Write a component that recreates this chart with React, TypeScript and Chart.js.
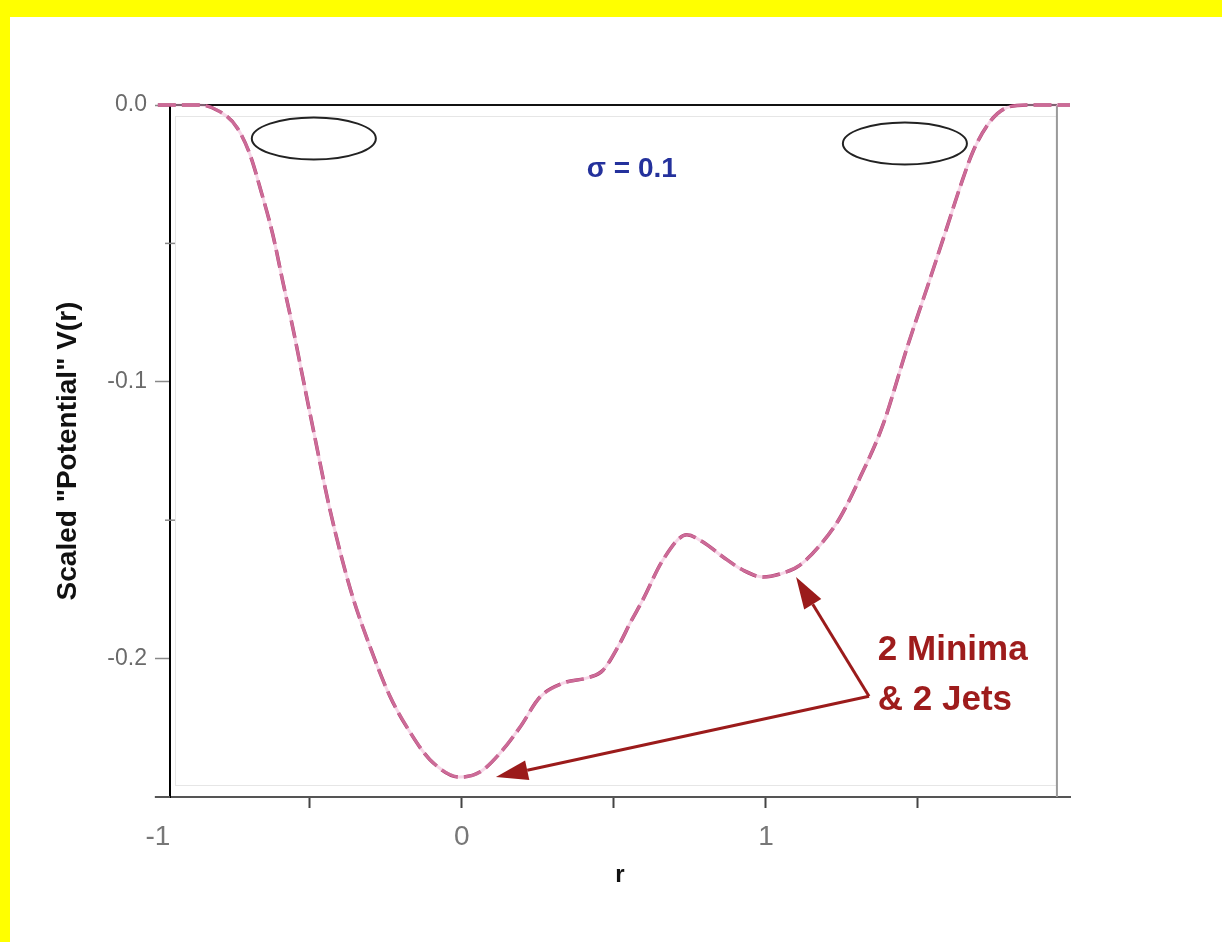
import React, { useEffect, useRef } from 'react';
import { Chart, registerables } from 'chart.js';

Chart.register(...registerables);

// ---- data ----
const rValues = [
  -1.0, -0.928, -0.862, -0.796, -0.74, -0.697, -0.664, -0.622, -0.589, -0.556,
  -0.523, -0.49, -0.434, -0.368, -0.303, -0.237, -0.171, -0.105, -0.007, 0.059,
  0.125, 0.191, 0.257, 0.332, 0.421, 0.464, 0.52, 0.553, 0.595, 0.661,
  0.74, 0.793, 0.859, 0.924, 0.99, 1.056, 1.112, 1.178, 1.243, 1.309,
  1.385, 1.464, 1.53, 1.595, 1.638, 1.681, 1.737, 1.793, 1.859, 2.0,
];
const vValues = [
  0, 0, 0, -0.0024, -0.0081, -0.0179, -0.0298, -0.0468, -0.0638, -0.0805,
  -0.0986, -0.1166, -0.1462, -0.1745, -0.1955, -0.2135, -0.2265, -0.2365, -0.2428, -0.241,
  -0.2342, -0.2248, -0.2139, -0.2089, -0.2067, -0.2042, -0.1944, -0.1872, -0.1788, -0.1644,
  -0.1553, -0.1579, -0.1633, -0.168, -0.1705, -0.1691, -0.1662, -0.159, -0.1492, -0.1347,
  -0.1155, -0.0877, -0.066, -0.0443, -0.0298, -0.0168, -0.006, -0.0009, 0, 0,
];

const xTickValues = [-1, -0.5, 0, 0.5, 1, 1.5];
const xTickLabels = ['-1', '', '0', '', '1', ''];
const yTickValues = [0, -0.1, -0.2];
const yTickLabels = ['0.0', '-0.1', '-0.2'];
const yMinorTicks = [-0.05, -0.15];

const xMin = -0.96;
const xMax = 2;
const yMin = -0.25;
const yMax = 0;
const frameRight = 1.957;

const sigmaText = 'σ = 0.1';
const sigmaPos = { x: 0.559, y: -0.0233 };
const noteLines = ['2 Minima', '& 2 Jets'];
const notePos = [
  { x: 1.368, y: -0.197 },
  { x: 1.368, y: -0.215 },
];
const arrowApex = { x: 1.339, y: -0.2136 };
const arrowTips = [
  { x: 1.099, y: -0.1705 },
  { x: 0.112, y: -0.2428 },
];
const ellipses = [
  { x: -0.487, y: -0.0121, rx: 0.204, ry: 0.0076 },
  { x: 1.457, y: -0.0139, rx: 0.204, ry: 0.0076 },
];

const FONT = "'Liberation Sans', Arial, Helvetica, sans-serif";

export default function App() {
  const ref = useRef<HTMLCanvasElement>(null);

  useEffect(() => {
    const canvas = ref.current;
    if (!canvas) return;

    const decor = {
      id: 'decor',
      beforeDraw(chart: any) {
        const { ctx, width, height } = chart;
        ctx.save();
        ctx.fillStyle = '#ffffff';
        ctx.fillRect(0, 0, width, height);
        ctx.fillStyle = '#ffff00';
        ctx.fillRect(0, 0, width, 17);
        ctx.fillRect(0, 0, 10, height);
        ctx.restore();
      },
      beforeDatasetsDraw(chart: any) {
        const { ctx, chartArea: a, scales } = chart;
        const x = scales.x;
        const y = scales.y;
        const xr = x.getPixelForValue(frameRight);
        ctx.save();
        ctx.strokeStyle = '#e6e6e6';
        ctx.lineWidth = 1;
        ctx.strokeRect(a.left + 5.5, a.top + 11.5, xr - a.left - 6, a.bottom - a.top - 23);
        ctx.strokeStyle = '#111111';
        ctx.lineWidth = 2;
        ctx.beginPath();
        ctx.moveTo(a.left, a.top);
        ctx.lineTo(xr, a.top);
        ctx.stroke();
        ctx.strokeStyle = '#9a9a9a';
        ctx.beginPath();
        ctx.moveTo(xr, a.top);
        ctx.lineTo(xr, a.bottom);
        ctx.stroke();
        ctx.strokeStyle = '#555555';
        ctx.beginPath();
        ctx.moveTo(x.getPixelForValue(-1) - 3, a.bottom);
        ctx.lineTo(a.left, a.bottom);
        ctx.stroke();
        ctx.strokeStyle = '#888888';
        ctx.lineWidth = 1.5;
        yMinorTicks.forEach((v) => {
          const py = y.getPixelForValue(v);
          ctx.beginPath();
          ctx.moveTo(a.left - 5, py);
          ctx.lineTo(a.left + 5, py);
          ctx.stroke();
        });
        ctx.restore();
      },
      afterDatasetsDraw(chart: any) {
        const { ctx, scales } = chart;
        const x = scales.x;
        const y = scales.y;
        const px = (v: number) => x.getPixelForValue(v);
        const py = (v: number) => y.getPixelForValue(v);
        ctx.save();
        ctx.strokeStyle = '#222222';
        ctx.lineWidth = 2;
        ellipses.forEach((e) => {
          const cx = px(e.x);
          const cy = py(e.y);
          const rx = Math.abs(px(e.x + e.rx) - cx);
          const ry = Math.abs(py(e.y + e.ry) - cy);
          ctx.beginPath();
          ctx.ellipse(cx, cy, rx, ry, 0, 0, Math.PI * 2);
          ctx.stroke();
        });
        ctx.fillStyle = '#24319c';
        ctx.font = `bold 28px ${FONT}`;
        ctx.textAlign = 'center';
        ctx.textBaseline = 'middle';
        ctx.fillText(sigmaText, px(sigmaPos.x), py(sigmaPos.y));
        ctx.fillStyle = '#9e1c1c';
        ctx.font = `bold 35px ${FONT}`;
        ctx.textAlign = 'left';
        noteLines.forEach((t, i) => {
          ctx.fillText(t, px(notePos[i].x), py(notePos[i].y));
        });
        const ax = px(arrowApex.x);
        const ay = py(arrowApex.y);
        ctx.strokeStyle = '#9b1b1b';
        ctx.fillStyle = '#9b1b1b';
        ctx.lineWidth = 3;
        arrowTips.forEach((tp) => {
          const tx = px(tp.x);
          const ty = py(tp.y);
          const ang = Math.atan2(ty - ay, tx - ax);
          const headLen = 32;
          const headW = 10;
          const bx = tx - headLen * Math.cos(ang);
          const by = ty - headLen * Math.sin(ang);
          ctx.beginPath();
          ctx.moveTo(ax, ay);
          ctx.lineTo(bx, by);
          ctx.stroke();
          ctx.beginPath();
          ctx.moveTo(tx, ty);
          ctx.lineTo(bx + headW * Math.sin(ang), by - headW * Math.cos(ang));
          ctx.lineTo(bx - headW * Math.sin(ang), by + headW * Math.cos(ang));
          ctx.closePath();
          ctx.fill();
        });
        ctx.restore();
      },
    };

    const points = rValues.map((r, i) => ({ x: r, y: vValues[i] }));

    const chart = new Chart(canvas, {
      type: 'line',
      data: {
        datasets: [
          {
            data: points,
            borderColor: 'rgba(240,175,210,0.5)',
            borderWidth: 3,
            pointRadius: 0,
            cubicInterpolationMode: 'monotone',
            clip: false,
          } as any,
          {
            data: points,
            borderColor: '#a8275e',
            borderWidth: 3.5,
            borderDash: [18, 6],
            pointRadius: 0,
            cubicInterpolationMode: 'monotone',
            clip: false,
          } as any,
        ],
      },
      options: {
        responsive: false,
        animation: false,
        events: [],
        layout: { padding: { top: 105, right: 152, left: 0, bottom: 0 } },
        plugins: {
          legend: { display: false },
          tooltip: { enabled: false },
        },
        scales: {
          x: {
            type: 'linear',
            min: xMin,
            max: xMax,
            afterBuildTicks: (s: any) => {
              s.ticks = xTickValues.map((v) => ({ value: v }));
            },
            afterFit: (s: any) => {
              s.height = 145;
            },
            grid: {
              drawOnChartArea: false,
              drawTicks: true,
              tickLength: 11,
              tickWidth: 2,
              tickColor: (c: any) => (c.tick && c.tick.value === -1 ? 'rgba(0,0,0,0)' : '#444444'),
            },
            border: { display: true, color: '#555555', width: 2 },
            ticks: {
              autoSkip: false,
              maxRotation: 0,
              padding: 12,
              color: '#777777',
              font: { family: FONT, size: 28 },
              callback: (_v: any, i: number) => xTickLabels[i],
            },
            title: {
              display: true,
              text: 'r',
              color: '#111111',
              font: { family: FONT, size: 24, weight: 'bold' },
              padding: { top: 0, bottom: 52 },
            },
          },
          y: {
            type: 'linear',
            min: yMin,
            max: yMax,
            afterBuildTicks: (s: any) => {
              s.ticks = yTickValues.map((v) => ({ value: v }));
            },
            afterFit: (s: any) => {
              s.width = 170;
            },
            grid: {
              drawOnChartArea: false,
              drawTicks: true,
              tickLength: 15,
              tickWidth: 1.5,
              tickColor: '#888888',
            },
            border: { display: true, color: '#000000', width: 2 },
            ticks: {
              autoSkip: false,
              padding: 8,
              color: '#6a6a6a',
              font: { family: FONT, size: 23 },
              callback: (_v: any, i: number) => yTickLabels[i],
            },
            title: {
              display: true,
              text: 'Scaled "Potential" V(r)',
              color: '#111111',
              font: { family: FONT, size: 28, weight: 'bold' },
              padding: { top: 51, bottom: 0 },
            },
          },
        },
      },
      plugins: [decor],
    } as any);

    return () => {
      chart.destroy();
    };
  }, []);

  return (
    <div style={{ position: 'absolute', left: 0, top: 0, width: 1222, height: 942 }}>
      <canvas ref={ref} width={1222} height={942} style={{ display: 'block', width: 1222, height: 942 }} />
    </div>
  );
}
